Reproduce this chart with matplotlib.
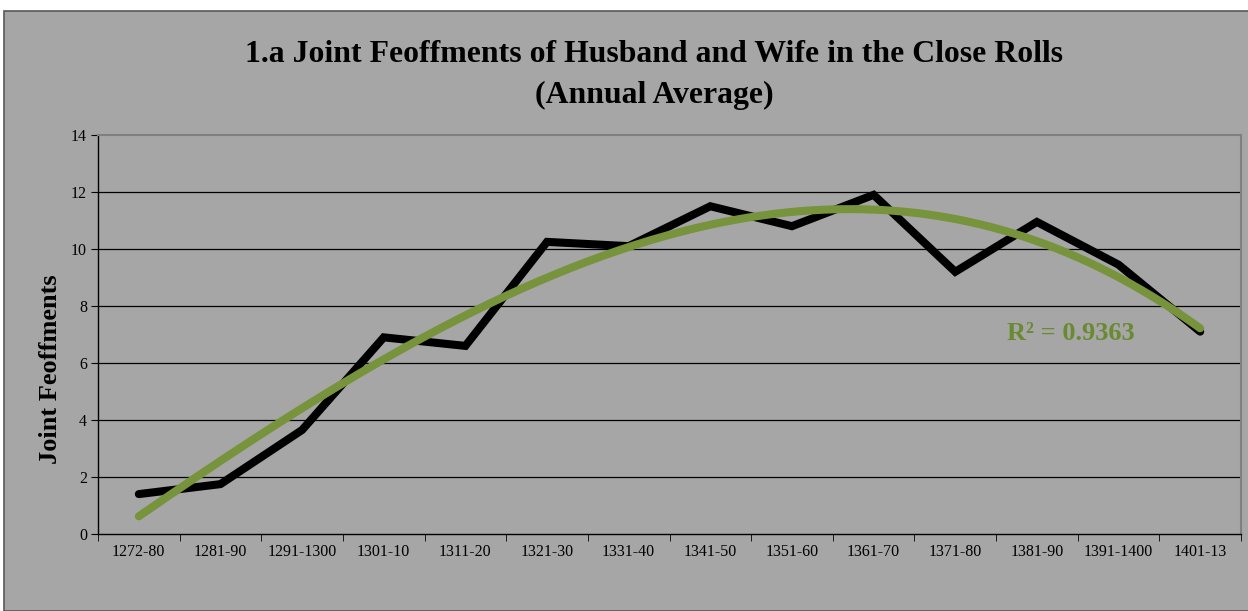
import matplotlib
matplotlib.use("Agg")
import matplotlib.pyplot as plt
import numpy as np
from matplotlib.patches import Rectangle

categories = ["1272-80", "1281-90", "1291-1300", "1301-10", "1311-20", "1321-30",
              "1331-40", "1341-50", "1351-60", "1361-70", "1371-80", "1381-90",
              "1391-1400", "1401-13"]
values = [1.4, 1.75, 3.65, 6.9, 6.6, 10.25, 10.1, 11.5, 10.8, 11.9, 9.2, 10.95, 9.45, 7.1]
y_ticks = [0, 2, 4, 6, 8, 10, 12, 14]
r2_label = "R² = 0.9363"
trend_order = 3

W, H = 1248, 611
fig = plt.figure(figsize=(W / 100, H / 100), dpi=100)
fig.patch.set_facecolor("white")
bg = "#a6a6a6"
fig.patches.append(Rectangle((4 / W, 0), 1.01, 1 - 11 / H, transform=fig.transFigure,
                             facecolor=bg, edgecolor="#595959", linewidth=1.2, zorder=-10))

ax = fig.add_axes([98 / W, 1 - 534 / H, (1241 - 98) / W, (534 - 135) / H])
ax.set_zorder(5)
ax.set_facecolor(bg)

x = np.arange(len(categories))
ax.plot(x, values, color="black", linewidth=5.8, solid_joinstyle="miter", solid_capstyle="round", zorder=3)

coef = np.polyfit(x, values, trend_order)
xs = np.linspace(x[0], x[-1], 200)
ax.plot(xs, np.polyval(coef, xs), color="#77933c", linewidth=5.8, solid_capstyle="round", zorder=4)

ax.set_xlim(-0.5, len(categories) - 0.5)
ax.set_ylim(0, 14)
ax.set_yticks(y_ticks)
ax.set_yticklabels([str(t) for t in y_ticks], fontfamily="Liberation Serif", fontsize=11.5)
ax.set_xticks(x)
ax.set_xticklabels(categories, fontfamily="Liberation Serif", fontsize=11.5)
ax.set_xticks(np.arange(-0.5, len(categories), 1), minor=True)
ax.tick_params(axis="x", which="major", length=0, pad=7)
ax.tick_params(axis="x", which="minor", length=5, direction="out", color="black")
ax.tick_params(axis="y", length=5, direction="out", color="black", pad=3)

for t in y_ticks[1:-1]:
    ax.axhline(t, color="black", linewidth=0.9, zorder=1)

for s in ["top", "right"]:
    ax.spines[s].set_color("#808080")
    ax.spines[s].set_linewidth(1.5)
for s in ["left", "bottom"]:
    ax.spines[s].set_color("black")
    ax.spines[s].set_linewidth(1.0)

ax.set_ylabel("Joint Feoffments", fontfamily="Liberation Serif", fontweight="bold", fontsize=19)
ax.yaxis.set_label_coords(-0.0315, 0.414)

fig.text(654 / W, 1 - 55 / H, "1.a Joint Feoffments of Husband and Wife in the Close Rolls",
         ha="center", va="center", fontfamily="Liberation Serif", fontweight="bold", fontsize=22.9)
fig.text(654 / W, 1 - 95 / H, "(Annual Average)",
         ha="center", va="center", fontfamily="Liberation Serif", fontweight="bold", fontsize=22.9)

ax.text(11.42, 7.05, r2_label, ha="center", va="center", color="#6a8a32",
        fontfamily="Liberation Serif", fontweight="bold", fontsize=19)

fig.savefig("out.png", dpi=100, facecolor=fig.get_facecolor())
